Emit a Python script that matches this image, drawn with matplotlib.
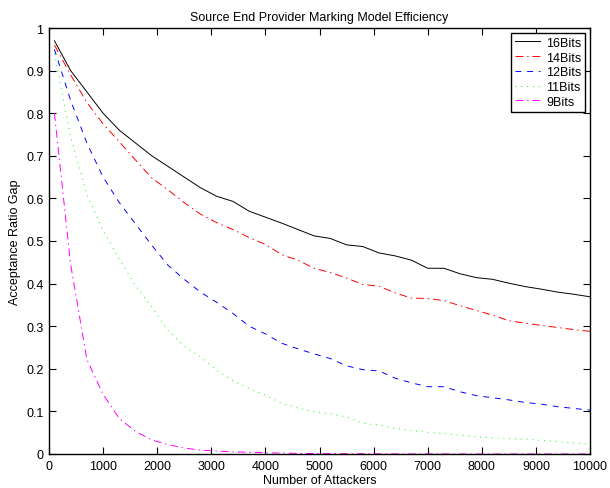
import numpy as np
import matplotlib
matplotlib.use('Agg')
import matplotlib.pyplot as plt

plt.rcParams['font.family'] = ['Liberation Sans', 'DejaVu Sans']

# 攻击者数量 (每 300 一个点)
attackers = list(range(100, 10001, 300))

bits16 = [0.970, 0.900, 0.850, 0.800, 0.760, 0.730, 0.700, 0.675, 0.650, 0.625,
          0.605, 0.593, 0.570, 0.556, 0.542, 0.527, 0.512, 0.506, 0.491, 0.487,
          0.472, 0.465, 0.455, 0.436, 0.436, 0.423, 0.414, 0.410, 0.401, 0.393,
          0.387, 0.380, 0.375, 0.369]
bits14 = [0.960, 0.890, 0.825, 0.775, 0.733, 0.690, 0.648, 0.620, 0.590, 0.563,
          0.543, 0.527, 0.508, 0.492, 0.468, 0.455, 0.436, 0.426, 0.413, 0.398,
          0.394, 0.378, 0.366, 0.365, 0.360, 0.348, 0.337, 0.326, 0.313, 0.307,
          0.302, 0.297, 0.292, 0.288]
bits12 = [0.950, 0.830, 0.730, 0.650, 0.590, 0.540, 0.490, 0.443, 0.410, 0.380,
          0.356, 0.330, 0.300, 0.282, 0.260, 0.247, 0.235, 0.224, 0.207, 0.198,
          0.195, 0.178, 0.167, 0.158, 0.158, 0.146, 0.137, 0.132, 0.127, 0.121,
          0.117, 0.111, 0.107, 0.103]
bits11 = [0.940, 0.745, 0.610, 0.525, 0.457, 0.395, 0.345, 0.290, 0.253, 0.228,
          0.197, 0.172, 0.154, 0.138, 0.119, 0.108, 0.099, 0.094, 0.087, 0.072,
          0.068, 0.060, 0.055, 0.051, 0.048, 0.044, 0.040, 0.038, 0.036, 0.035,
          0.032, 0.029, 0.026, 0.0235]
bits9 = [0.800, 0.445, 0.222, 0.140, 0.083, 0.053, 0.033, 0.022, 0.014, 0.009,
         0.007, 0.005, 0.004, 0.003, 0.002, 0.0015, 0.001, 0.0008, 0.0006, 0.0005,
         0.0004, 0.0003, 0.0002, 0.0002, 0.0001, 0.0001, 0.0, 0.0, 0.0, 0.0,
         0.0, 0.0, 0.0, 0.0]

fig = plt.figure(figsize=(6.1, 4.89), dpi=100)
ax = fig.add_axes([49 / 610, 34 / 489, 541 / 610, 426 / 489])

lw = 0.7
ax.plot(attackers, bits16, '-', color='black', lw=lw, label='16Bits')
ax.plot(attackers, bits14, color='red', lw=lw, dashes=(8, 4, 1.5, 4), label='14Bits')
ax.plot(attackers, bits12, color='blue', lw=lw, dashes=(6, 6), label='12Bits')
ax.plot(attackers, bits11, color='#00ff00', lw=lw, dashes=(1, 5), label='11Bits')
ax.plot(attackers, bits9, color='magenta', lw=lw, dashes=(8, 4, 1.5, 4), label='9Bits')

ax.set_xlim(0, 10000)
ax.set_ylim(0, 1)
ax.set_xticks(range(0, 10001, 1000))
ax.set_yticks(np.arange(0, 1.01, 0.1))
ax.set_yticklabels(['0', '0.1', '0.2', '0.3', '0.4', '0.5', '0.6', '0.7', '0.8', '0.9', '1'])
ax.tick_params(direction='in', top=True, right=True, length=5, width=0.8, labelsize=9, pad=4)
for s in ax.spines.values():
    s.set_linewidth(1.0)

ax.set_title('Source End Provider Marking Model Efficiency', fontsize=9, pad=6)
ax.set_xlabel('Number of Attackers', fontsize=9, labelpad=2)
ax.set_ylabel('Acceptance Ratio Gap', fontsize=9, labelpad=4)

leg = ax.legend(loc='upper right', fontsize=9, fancybox=False, edgecolor='black',
                framealpha=1, borderaxespad=0.4, handlelength=2.0, labelspacing=0.22,
                borderpad=0.3, handletextpad=0.5)
leg.get_frame().set_linewidth(1.0)

plt.savefig('out.png', dpi=100)
